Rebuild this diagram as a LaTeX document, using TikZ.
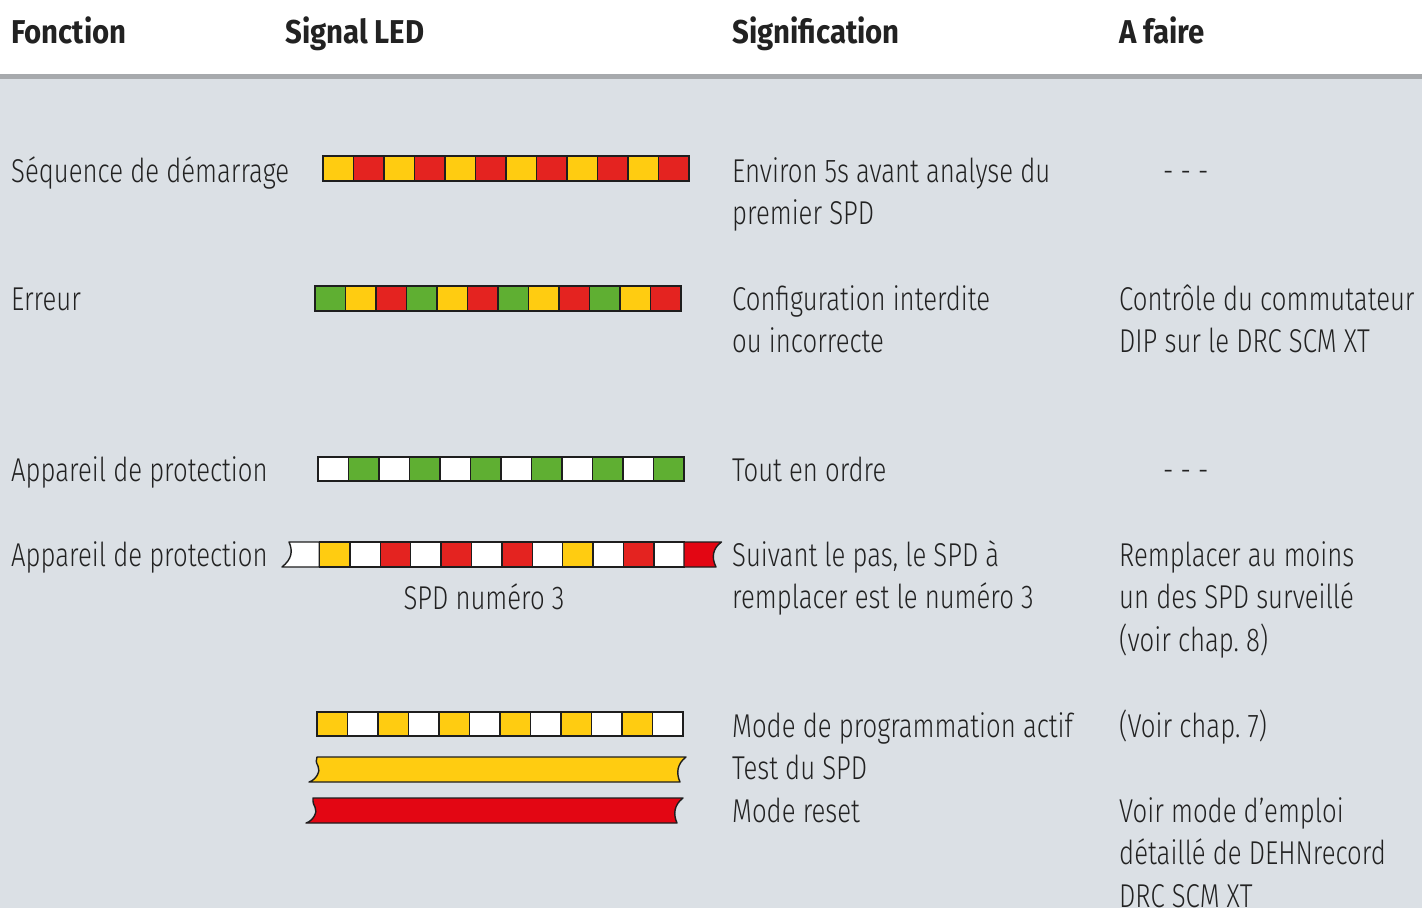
\documentclass[tikz,border=0pt]{standalone}
\usepackage{fontspec}
\setmainfont{Fira Sans Light}[FakeStretch=0.78]
\newfontfamily\headfont{Fira Sans}[FakeStretch=0.89]
\definecolor{bg}{RGB}{219,224,229}
\definecolor{rulegray}{RGB}{167,170,173}
\definecolor{ink}{RGB}{34,34,34}
\definecolor{edge}{RGB}{30,30,30}
\definecolor{yl}{RGB}{255,204,17}
\definecolor{rd}{RGB}{228,35,32}
\definecolor{crim}{RGB}{227,6,19}
\definecolor{gn}{RGB}{95,175,50}
\definecolor{wh}{RGB}{255,255,255}
\tikzset{
  txt/.style={anchor=base west, inner sep=0pt, text=ink, align=left,
    font=\fontsize{33}{42.5}\selectfont},
  head/.style={txt, font=\headfont\fontsize{33}{40}\selectfont\bfseries},
  cell/.style={draw=edge, line width=1.4pt},
  ribbon/.style={draw=edge, line width=1.4pt, line join=round}
}
\begin{document}
\begin{tikzpicture}[x=1pt,y=-1pt]
    \fill[white] (0,0) rectangle (1422,74);
    \fill[rulegray] (0,74) rectangle (1422,79);
    \fill[bg] (0,79) rectangle (1422,908);
    \useasboundingbox (0,0) rectangle (1422,908);

    \node[head] (hfun) at (11,43) {Fonction};
    \node[head] (hsig) at (285,43) {Signal LED};
    \node[head] (hmean) at (732,43) {Signification};
    \node[head] (htodo) at (1119,43) {A faire};

    \foreach \c [count=\i from 0] in {yl,rd,yl,rd,yl,rd,yl,rd,yl,rd,yl,rd}
        \draw[cell,fill=\c] (323+\i*30.5,156) rectangle ++(30.5,25);
    \node[txt] (fstart) at (11,182) {Séquence de démarrage};
    \node[txt] (mstart) at (732,224.5) {Environ 5s avant analyse du\\premier SPD};
    \node[txt] (tstart) at (1163,182) {- - -};

    \foreach \c [count=\i from 0] in {gn,yl,rd,gn,yl,rd,gn,yl,rd,gn,yl,rd}
        \draw[cell,fill=\c] (315+\i*30.5,286) rectangle ++(30.5,25);
    \node[txt] (ferr) at (11,310) {Erreur};
    \node[txt] (merr) at (732,352.5) {Configuration interdite\\ou incorrecte};
    \node[txt] (terr) at (1119,352.5) {Contrôle du commutateur\\DIP sur le DRC SCM XT};

    \foreach \c [count=\i from 0] in {wh,gn,wh,gn,wh,gn,wh,gn,wh,gn,wh,gn}
        \draw[cell,fill=\c] (318+\i*30.5,457) rectangle ++(30.5,24);
    \node[txt] (fok) at (11,481) {Appareil de protection};
    \node[txt] (mok) at (732,481) {Tout en ordre};
    \node[txt] (tok) at (1163,481) {- - -};

    \draw[ribbon,fill=wh] (319.4,542) -- (289,542)
        .. controls (293,551) and (292,559) .. (282,567) -- (319.4,567) -- cycle;
    \foreach \c [count=\i] in {yl,wh,rd,wh,rd,wh,rd,wh,yl,wh,rd,wh}
        \draw[cell,fill=\c] (289+\i*30.4,542) rectangle ++(30.4,25);
    \draw[ribbon,fill=crim] (684,542) -- (721.5,542)
        .. controls (713,548) and (711,557) .. (716,567) -- (684,567) -- cycle;
    \node[txt] (fspd) at (11,566) {Appareil de protection};
    \node[txt,anchor=base] (nspd) at (484,609) {SPD numéro 3};
    \node[txt] (mspd) at (732,608.5) {Suivant le pas, le SPD à\\remplacer est le numéro 3};
    \node[txt] (tspd) at (1119,651) {Remplacer au moins\\un des SPD surveillé\\(voir chap.~8)};

    \foreach \c [count=\i from 0] in {yl,wh,yl,wh,yl,wh,yl,wh,yl,wh,yl,wh}
        \draw[cell,fill=\c] (317+\i*30.5,712) rectangle ++(30.5,24);
    \draw[ribbon,fill=yl] (317,757) -- (686,757)
        .. controls (677,764) and (676,773) .. (680,782) -- (309,782)
        .. controls (316,780) and (321,771) .. (318,766) .. controls (316,762) .. (317,757) -- cycle;
    \draw[ribbon,fill=crim] (313,798) -- (683,798)
        .. controls (674,805) and (673,814) .. (677,823) -- (306,823)
        .. controls (313,821) and (318,812) .. (315,807) .. controls (313,803) .. (313,798) -- cycle;
    \node[txt] (mprog) at (732,822) {Mode de programmation actif\\Test du SPD\\Mode reset};
    \node[txt] (tprog) at (1119,737) {(Voir chap.~7)};
    \node[txt] (treset) at (1119,907) {Voir mode d’emploi\\détaillé de DEHNrecord\\DRC SCM XT};
\end{tikzpicture}
\end{document}
